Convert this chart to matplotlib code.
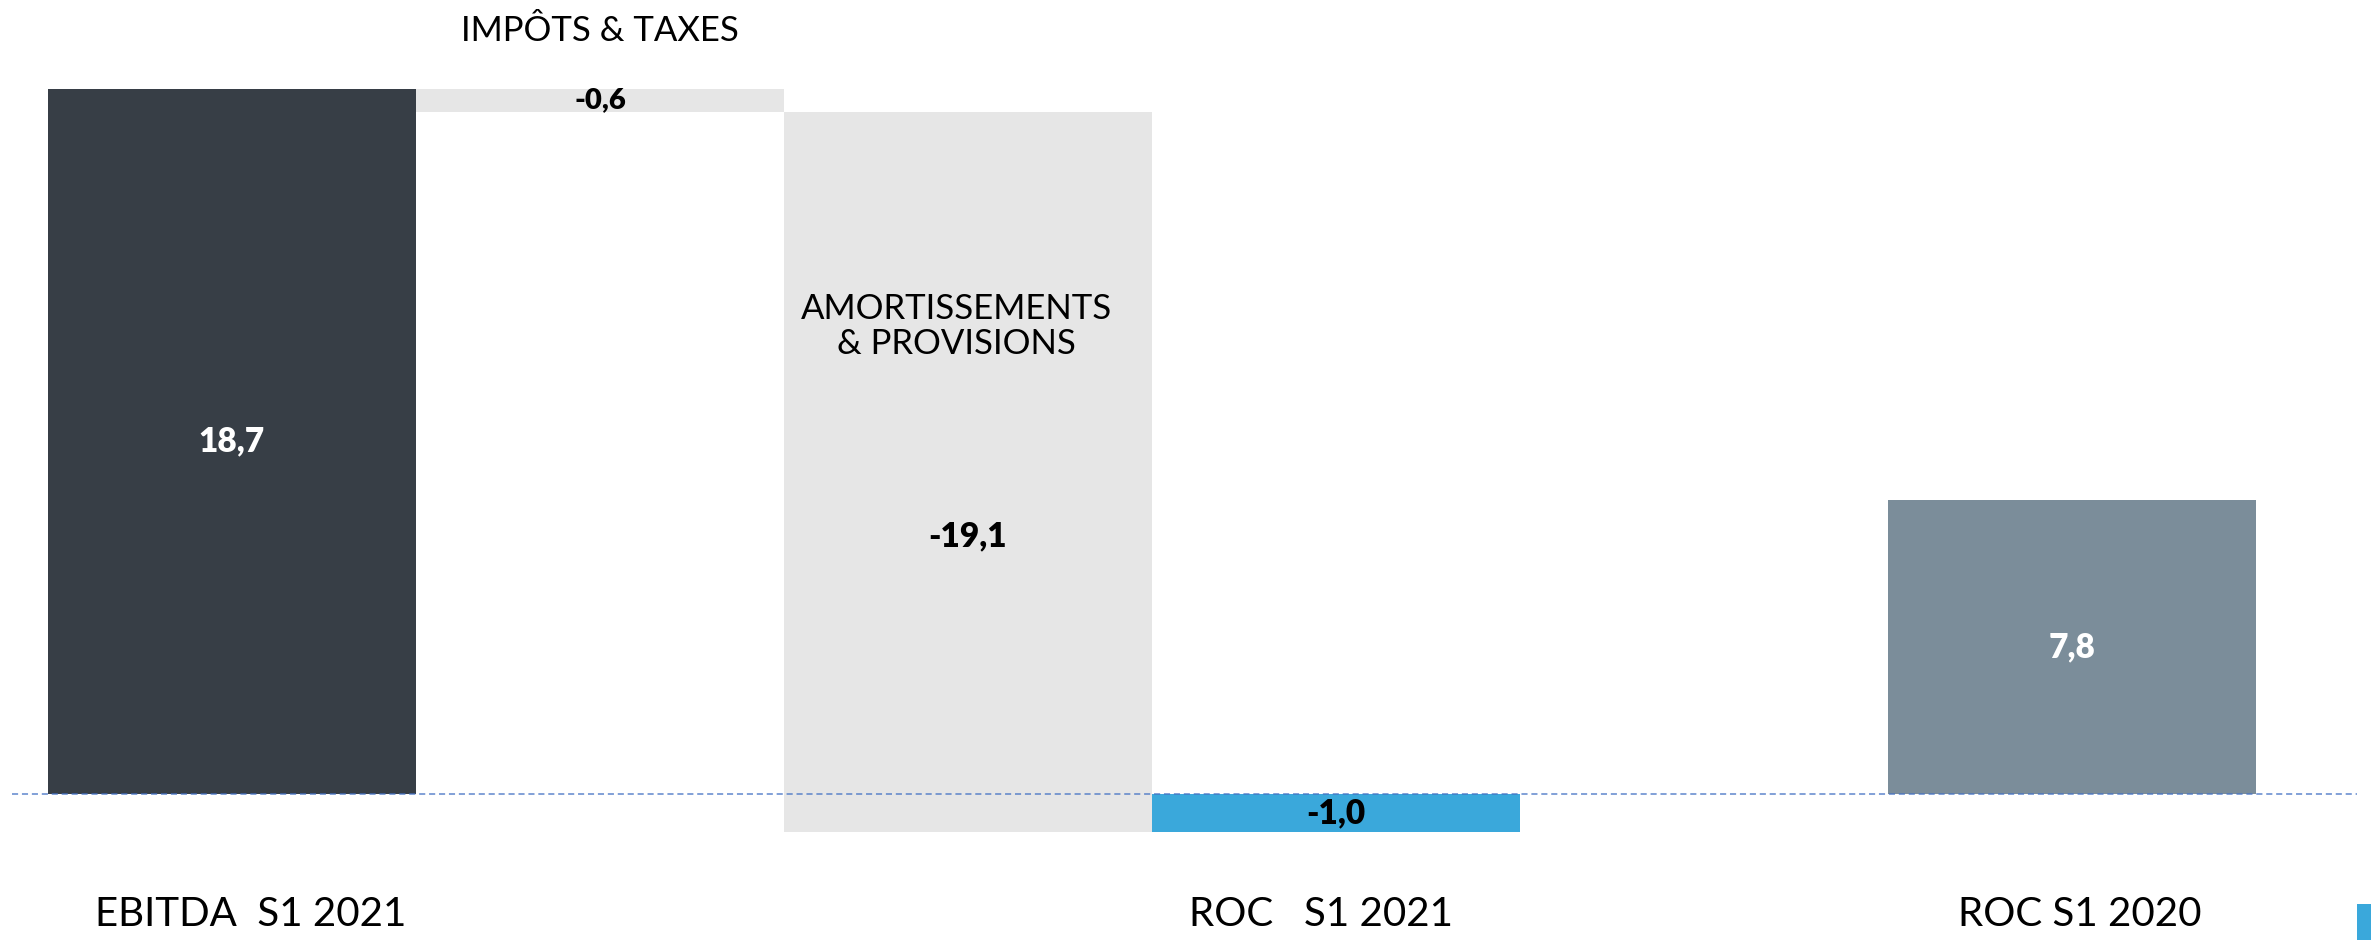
import numpy as np
import matplotlib.pyplot as plt
from matplotlib.patches import Rectangle

# waterfall data (millions)
categories = ["EBITDA  S1 2021", "IMPÔTS & TAXES", "AMORTISSEMENTS\n& PROVISIONS", "ROC   S1 2021", "ROC S1 2020"]
values = [18.7, -0.6, -19.1, -1.0, 7.8]
value_labels = ["18,7", "-0,6", "-19,1", "-1,0", "7,8"]
positions = [0, 1, 2, 3, 5]
kinds = ["total", "step", "step", "total", "total"]

colors = ["#373e46", "#e6e6e6", "#e6e6e6", "#3aa8db", "#7b8d9a"]
label_colors = ["white", "black", "black", "black", "white"]

plt.rcParams['font.family'] = ['Lato', 'DejaVu Sans']

fig = plt.figure(figsize=(23.71, 9.40), dpi=100)
ax = fig.add_axes([0, 0, 1, 1])

# bottoms/heights of the waterfall
bottoms = []
heights = []
running = 0.
for v, k in zip(values, kinds):
    if k == "total":
        bottoms.append(0.)
        heights.append(v)
        running = v
    else:
        bottoms.append(running + v if v < 0 else running)
        heights.append(abs(v))
        running += v

ax.bar(positions, heights, bottom=bottoms, width=1.0, color=colors, linewidth=0, zorder=2)

ax.axhline(0, xmin=0.005, xmax=0.994, color='#4472c4', ls=(0, (4, 2.5)), lw=1.1, alpha=0.85, zorder=3)

# value labels
for i, (x, b, h) in enumerate(zip(positions, bottoms, heights)):
    y = b + h / 2
    size = 24
    if i == 2:
        y = b + h * 0.41  # label sits lower in that bar
    if i == 1:
        size = 21
    ax.text(x, y, value_labels[i], ha='center', va='center', fontsize=size,
            fontweight='heavy', color=label_colors[i], zorder=4)

# category labels
ax.text(positions[0] + 0.05, -3.2, categories[0], ha='center', va='center', fontsize=29)
ax.text(positions[1], 20.25, categories[1], ha='center', va='center', fontsize=25)
ax.text(positions[2] - 0.03, 12.4, categories[2], ha='center', va='center', fontsize=25, linespacing=1.1)
ax.text(positions[3] - 0.04, -3.2, categories[3], ha='center', va='center', fontsize=29)
ax.text(positions[4] + 0.02, -3.2, categories[4], ha='center', va='center', fontsize=29)

# little blue marker cut off bottom right
ax.add_patch(Rectangle((0.9941, 0.0), 0.006, 0.038, transform=ax.transAxes,
                       color='#3aa8db', lw=0, clip_on=False))

ax.set_xlim(-0.630, 5.8125)
ax.set_ylim(-3.87, 21.06)
ax.axis('off')

fig.savefig('out.png', dpi=100)
